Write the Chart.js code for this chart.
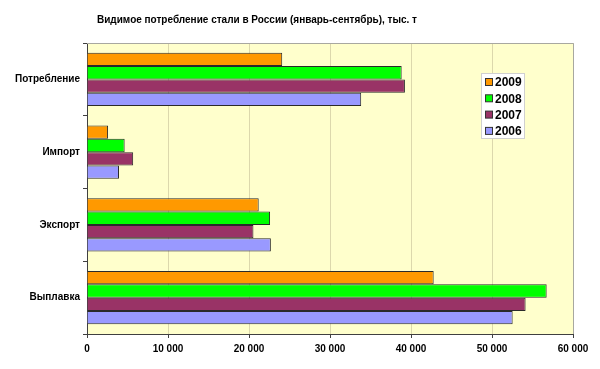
<!DOCTYPE html>
<html>
  <head>
    <title>Видимое потребление стали</title>
    <script src="https://cdn.jsdelivr.net/npm/chart.js"></script>
    <style>
      body { margin: 0; background: #fff; }
      #wrap { width: 600px; height: 369px; }
    </style>
  </head>
  <body>
    <div id="wrap"><canvas id="myChart"></canvas></div>

    <script>
      const titleText = "Видимое потребление стали в России (январь-сентябрь), тыс. т";
      const categories = ["Потребление", "Импорт", "Экспорт", "Выплавка"];
      const years = ["2009", "2008", "2007", "2006"];
      const values2009 = [24100, 2600, 21200, 42800];
      const values2008 = [38850, 4650, 22600, 56750];
      const values2007 = [39250, 5700, 20550, 54150];
      const values2006 = [33850, 3950, 22700, 52550];
      const xTicks = [0, 10000, 20000, 30000, 40000, 50000, 60000];
      const colors = ["#FF9900", "#00FF00", "#993366", "#9999FF"];

      const seriesValues = [values2009, values2008, values2007, values2006];
      const font = "'Liberation Sans', Arial, sans-serif";

      // plot background + top/right frame
      const plotArea = {
        id: "plotArea",
        beforeDraw(chart) {
          const { ctx, chartArea: a } = chart;
          ctx.save();
          ctx.fillStyle = "#FFFFCC";
          ctx.fillRect(a.left, a.top, a.right - a.left, a.bottom - a.top);
          ctx.restore();
        },
        afterDatasetsDraw(chart) {
          const { ctx, chartArea: a } = chart;
          ctx.save();
          ctx.strokeStyle = "#A8A8A0";
          ctx.lineWidth = 1;
          ctx.beginPath();
          ctx.moveTo(a.left, a.top + 0.5);
          ctx.lineTo(a.right + 0.5, a.top + 0.5);
          ctx.lineTo(a.right + 0.5, a.bottom);
          ctx.stroke();
          ctx.restore();
        },
      };

      // title and legend drawn at their spots
      const labels = {
        id: "labels",
        afterDraw(chart) {
          const ctx = chart.ctx;
          ctx.save();
          ctx.fillStyle = "#000";
          ctx.font = "bold 10px " + font;
          ctx.textAlign = "center";
          ctx.textBaseline = "middle";
          ctx.fillText(titleText, 257, 20);

          const lx = 481, ly = 73, lw = 43, lh = 65;
          ctx.fillStyle = "#fff";
          ctx.fillRect(lx, ly, lw, lh);
          ctx.strokeStyle = "#D0D0D0";
          ctx.strokeRect(lx + 0.5, ly + 0.5, lw, lh);
          ctx.font = "bold 12px " + font;
          ctx.textAlign = "left";
          chart.data.datasets.forEach((ds, i) => {
            const cy = ly + 9 + i * 16.3;
            ctx.fillStyle = ds.backgroundColor;
            ctx.fillRect(lx + 4.5, cy - 3.5, 7, 7);
            ctx.strokeStyle = "#333";
            ctx.strokeRect(lx + 4.5, cy - 3.5, 7, 7);
            ctx.fillStyle = "#000";
            ctx.fillText(ds.label, lx + 14, cy + 1);
          });
          ctx.restore();
        },
      };

      const ctx = document.getElementById("myChart").getContext("2d");
      const myChart = new Chart(ctx, {
        type: "bar",
        data: {
          labels: categories,
          datasets: years.map((y, i) => ({
            label: y,
            data: seriesValues[i],
            backgroundColor: colors[i],
            borderColor: "#2A2A2A",
            borderWidth: 1,
            categoryPercentage: 0.73,
            barPercentage: 1,
          })),
        },
        options: {
          indexAxis: "y",
          responsive: true,
          maintainAspectRatio: false,
          animation: false,
          layout: { padding: { top: 43, right: 27, left: 0, bottom: 0 } },
          plugins: {
            legend: { display: false },
            title: { display: false },
            tooltip: { enabled: false },
          },
          scales: {
            x: {
              min: 0,
              max: 60000,
              afterBuildTicks: (s) => { s.ticks = xTicks.map((v) => ({ value: v })); },
              afterFit: (s) => { s.height = 35; },
              grid: {
                color: "#DCD8AC",
                tickColor: "#404040",
                tickLength: 4,
              },
              border: { color: "#404040", width: 1 },
              ticks: {
                color: "#000",
                font: { family: font, size: 10, weight: "bold" },
                padding: 5,
                maxRotation: 0,
                callback: (v) => String(v).replace(/\B(?=(\d{3})+(?!\d))/g, " "),
              },
            },
            y: {
              afterFit: (s) => { s.width = 87; },
              grid: {
                drawOnChartArea: false,
                tickColor: "#404040",
                tickLength: 4,
              },
              border: { color: "#404040", width: 1 },
              ticks: {
                color: "#000",
                font: { family: font, size: 10, weight: "bold" },
                padding: 3,
              },
            },
          },
        },
        plugins: [plotArea, labels],
      });
    </script>
  </body>
</html>
